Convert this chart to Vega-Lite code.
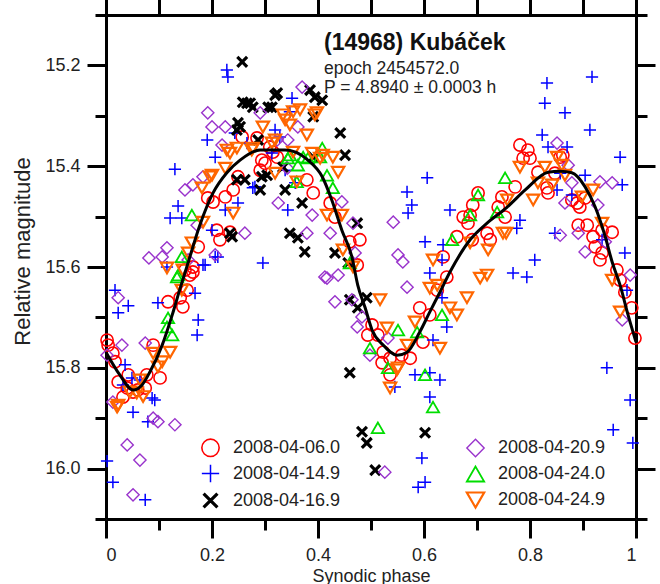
{
"$schema":"https://vega.github.io/schema/vega-lite/v6.json",
"width":530,"height":504,
"autosize":{"type":"none"},
"padding":{"left":106,"top":15,"right":24,"bottom":65},
"background":"white",
"title":{"text":"(14968) Kubáček","subtitle":["epoch 2454572.0","P = 4.8940 ± 0.0003 h"],"anchor":"start","frame":"group","dx":218,"dy":99,"offset":0,"font":"Liberation Sans","fontSize":23,"fontWeight":"bold","color":"#111","subtitleFont":"Liberation Sans","subtitleFontSize":17.5,"subtitleColor":"#222","subtitlePadding":5,"subtitleLineHeight":19},
"config":{"view":{"stroke":null},"font":"Liberation Sans",
"axis":{"domainColor":"#000","domainWidth":3,"tickColor":"#000","tickWidth":3,"grid":false,"labelFont":"Liberation Sans","labelFontSize":18,"labelColor":"#222","titleFont":"Liberation Sans","titleFontSize":18,"titleFontWeight":"normal","titleColor":"#222"}},
"datasets":{
"fit":[
{"p":0.000,"m":15.769},{"p":0.026,"m":15.814},{"p":0.051,"m":15.844},{"p":0.068,"m":15.834},{"p":0.083,"m":15.808},{"p":0.106,"m":15.755},{"p":0.125,"m":15.695},{"p":0.140,"m":15.642},{"p":0.153,"m":15.598},{"p":0.177,"m":15.517},{"p":0.202,"m":15.453},{"p":0.228,"m":15.413},{"p":0.253,"m":15.388},{"p":0.291,"m":15.368},{"p":0.338,"m":15.368},{"p":0.381,"m":15.388},{"p":0.408,"m":15.421},{"p":0.426,"m":15.467},{"p":0.445,"m":15.527},{"p":0.464,"m":15.580},{"p":0.475,"m":15.636},{"p":0.489,"m":15.681},{"p":0.502,"m":15.725},{"p":0.523,"m":15.755},{"p":0.549,"m":15.775},{"p":0.568,"m":15.769},{"p":0.592,"m":15.729},{"p":0.611,"m":15.689},{"p":0.630,"m":15.650},{"p":0.649,"m":15.610},{"p":0.687,"m":15.546},{"p":0.719,"m":15.513},{"p":0.757,"m":15.481},{"p":0.791,"m":15.447},{"p":0.834,"m":15.412},{"p":0.857,"m":15.410},{"p":0.879,"m":15.413},{"p":0.904,"m":15.441},{"p":0.923,"m":15.481},{"p":0.942,"m":15.540},{"p":0.955,"m":15.590},{"p":0.970,"m":15.636},{"p":0.985,"m":15.695},{"p":1.000,"m":15.749}
],
"obs":[
{"s":"2008-04-06.0","p":0.002,"m":15.745},{"s":"2008-04-06.0","p":0.004,"m":15.755},{"s":"2008-04-06.0","p":0.013,"m":15.771},{"s":"2008-04-06.0","p":0.017,"m":15.788},{"s":"2008-04-06.0","p":0.023,"m":15.828},{"s":"2008-04-06.0","p":0.042,"m":15.814},{"s":"2008-04-06.0","p":0.040,"m":15.840},{"s":"2008-04-06.0","p":0.032,"m":15.858},{"s":"2008-04-06.0","p":0.051,"m":15.848},{"s":"2008-04-06.0","p":0.060,"m":15.844},{"s":"2008-04-06.0","p":0.074,"m":15.840},{"s":"2008-04-06.0","p":0.077,"m":15.814},{"s":"2008-04-06.0","p":0.102,"m":15.820},{"s":"2008-04-06.0","p":0.089,"m":15.755},{"s":"2008-04-06.0","p":0.117,"m":15.669},{"s":"2008-04-06.0","p":0.140,"m":15.661},{"s":"2008-04-06.0","p":0.145,"m":15.679},{"s":"2008-04-06.0","p":0.158,"m":15.616},{"s":"2008-04-06.0","p":0.149,"m":15.606},{"s":"2008-04-06.0","p":0.164,"m":15.610},{"s":"2008-04-06.0","p":0.153,"m":15.646},{"s":"2008-04-06.0","p":0.192,"m":15.463},{"s":"2008-04-06.0","p":0.202,"m":15.471},{"s":"2008-04-06.0","p":0.225,"m":15.461},{"s":"2008-04-06.0","p":0.209,"m":15.527},{"s":"2008-04-06.0","p":0.215,"m":15.546},{"s":"2008-04-06.0","p":0.234,"m":15.531},{"s":"2008-04-06.0","p":0.174,"m":15.560},{"s":"2008-04-06.0","p":0.164,"m":15.600},{"s":"2008-04-06.0","p":0.249,"m":15.421},{"s":"2008-04-06.0","p":0.240,"m":15.447},{"s":"2008-04-06.0","p":0.285,"m":15.344},{"s":"2008-04-06.0","p":0.309,"m":15.362},{"s":"2008-04-06.0","p":0.300,"m":15.394},{"s":"2008-04-06.0","p":0.323,"m":15.382},{"s":"2008-04-06.0","p":0.291,"m":15.408},{"s":"2008-04-06.0","p":0.294,"m":15.388},{"s":"2008-04-06.0","p":0.315,"m":15.372},{"s":"2008-04-06.0","p":0.257,"m":15.342},{"s":"2008-04-06.0","p":0.379,"m":15.427},{"s":"2008-04-06.0","p":0.391,"m":15.453},{"s":"2008-04-06.0","p":0.423,"m":15.473},{"s":"2008-04-06.0","p":0.432,"m":15.501},{"s":"2008-04-06.0","p":0.460,"m":15.550},{"s":"2008-04-06.0","p":0.479,"m":15.546},{"s":"2008-04-06.0","p":0.474,"m":15.596},{"s":"2008-04-06.0","p":0.502,"m":15.715},{"s":"2008-04-06.0","p":0.494,"m":15.735},{"s":"2008-04-06.0","p":0.643,"m":15.620},{"s":"2008-04-06.0","p":0.625,"m":15.646},{"s":"2008-04-06.0","p":0.592,"m":15.681},{"s":"2008-04-06.0","p":0.611,"m":15.695},{"s":"2008-04-06.0","p":0.513,"m":15.735},{"s":"2008-04-06.0","p":0.523,"m":15.769},{"s":"2008-04-06.0","p":0.536,"m":15.781},{"s":"2008-04-06.0","p":0.558,"m":15.775},{"s":"2008-04-06.0","p":0.574,"m":15.781},{"s":"2008-04-06.0","p":0.598,"m":15.749},{"s":"2008-04-06.0","p":0.536,"m":15.814},{"s":"2008-04-06.0","p":0.521,"m":15.790},{"s":"2008-04-06.0","p":0.702,"m":15.453},{"s":"2008-04-06.0","p":0.692,"m":15.477},{"s":"2008-04-06.0","p":0.687,"m":15.497},{"s":"2008-04-06.0","p":0.674,"m":15.501},{"s":"2008-04-06.0","p":0.683,"m":15.513},{"s":"2008-04-06.0","p":0.662,"m":15.540},{"s":"2008-04-06.0","p":0.719,"m":15.533},{"s":"2008-04-06.0","p":0.725,"m":15.546},{"s":"2008-04-06.0","p":0.747,"m":15.461},{"s":"2008-04-06.0","p":0.740,"m":15.481},{"s":"2008-04-06.0","p":0.753,"m":15.501},{"s":"2008-04-06.0","p":0.636,"m":15.580},{"s":"2008-04-06.0","p":0.691,"m":15.546},{"s":"2008-04-06.0","p":0.781,"m":15.358},{"s":"2008-04-06.0","p":0.796,"m":15.368},{"s":"2008-04-06.0","p":0.787,"m":15.384},{"s":"2008-04-06.0","p":0.800,"m":15.384},{"s":"2008-04-06.0","p":0.815,"m":15.412},{"s":"2008-04-06.0","p":0.847,"m":15.414},{"s":"2008-04-06.0","p":0.857,"m":15.382},{"s":"2008-04-06.0","p":0.862,"m":15.378},{"s":"2008-04-06.0","p":0.772,"m":15.441},{"s":"2008-04-06.0","p":0.832,"m":15.443},{"s":"2008-04-06.0","p":0.834,"m":15.453},{"s":"2008-04-06.0","p":0.879,"m":15.467},{"s":"2008-04-06.0","p":0.889,"m":15.473},{"s":"2008-04-06.0","p":0.894,"m":15.481},{"s":"2008-04-06.0","p":0.904,"m":15.463},{"s":"2008-04-06.0","p":0.891,"m":15.517},{"s":"2008-04-06.0","p":0.908,"m":15.517},{"s":"2008-04-06.0","p":0.919,"m":15.540},{"s":"2008-04-06.0","p":0.936,"m":15.527},{"s":"2008-04-06.0","p":0.955,"m":15.531},{"s":"2008-04-06.0","p":0.923,"m":15.560},{"s":"2008-04-06.0","p":0.936,"m":15.572},{"s":"2008-04-06.0","p":0.932,"m":15.586},{"s":"2008-04-06.0","p":0.964,"m":15.606},{"s":"2008-04-06.0","p":0.970,"m":15.626},{"s":"2008-04-06.0","p":0.979,"m":15.650},{"s":"2008-04-06.0","p":0.992,"m":15.681},{"s":"2008-04-06.0","p":0.998,"m":15.741},
{"s":"2008-04-14.9","p":0.002,"m":15.985},{"s":"2008-04-14.9","p":0.013,"m":16.027},{"s":"2008-04-14.9","p":0.074,"m":16.062},{"s":"2008-04-14.9","p":0.017,"m":15.646},{"s":"2008-04-14.9","p":0.023,"m":15.691},{"s":"2008-04-14.9","p":0.042,"m":15.677},{"s":"2008-04-14.9","p":0.098,"m":15.671},{"s":"2008-04-14.9","p":0.174,"m":15.705},{"s":"2008-04-14.9","p":0.172,"m":15.735},{"s":"2008-04-14.9","p":0.036,"m":15.794},{"s":"2008-04-14.9","p":0.032,"m":15.834},{"s":"2008-04-14.9","p":0.049,"m":15.820},{"s":"2008-04-14.9","p":0.064,"m":15.824},{"s":"2008-04-14.9","p":0.087,"m":15.860},{"s":"2008-04-14.9","p":0.092,"m":15.864},{"s":"2008-04-14.9","p":0.051,"m":15.888},{"s":"2008-04-14.9","p":0.079,"m":15.907},{"s":"2008-04-14.9","p":0.168,"m":15.652},{"s":"2008-04-14.9","p":0.183,"m":15.596},
{"s":"2008-04-14.9","p":0.228,"m":15.209},{"s":"2008-04-14.9","p":0.230,"m":15.223},{"s":"2008-04-14.9","p":0.191,"m":15.348},{"s":"2008-04-14.9","p":0.206,"m":15.382},{"s":"2008-04-14.9","p":0.130,"m":15.406},{"s":"2008-04-14.9","p":0.243,"m":15.334},{"s":"2008-04-14.9","p":0.136,"m":15.479},{"s":"2008-04-14.9","p":0.121,"m":15.503},{"s":"2008-04-14.9","p":0.143,"m":15.503},{"s":"2008-04-14.9","p":0.225,"m":15.487},{"s":"2008-04-14.9","p":0.200,"m":15.527},{"s":"2008-04-14.9","p":0.211,"m":15.580},{"s":"2008-04-14.9","p":0.206,"m":15.580},{"s":"2008-04-14.9","p":0.187,"m":15.596},{"s":"2008-04-14.9","p":0.115,"m":15.600},
{"s":"2008-04-14.9","p":0.351,"m":15.265},{"s":"2008-04-14.9","p":0.347,"m":15.292},{"s":"2008-04-14.9","p":0.319,"m":15.328},{"s":"2008-04-14.9","p":0.328,"m":15.342},{"s":"2008-04-14.9","p":0.313,"m":15.374},{"s":"2008-04-14.9","p":0.338,"m":15.408},{"s":"2008-04-14.9","p":0.343,"m":15.487},{"s":"2008-04-14.9","p":0.281,"m":15.441},{"s":"2008-04-14.9","p":0.249,"m":15.473},{"s":"2008-04-14.9","p":0.296,"m":15.592},{"s":"2008-04-14.9","p":0.357,"m":15.433},{"s":"2008-04-14.9","p":0.266,"m":15.354},{"s":"2008-04-14.9","p":0.277,"m":15.443},
{"s":"2008-04-14.9","p":0.611,"m":15.612},{"s":"2008-04-14.9","p":0.634,"m":15.661},{"s":"2008-04-14.9","p":0.643,"m":15.719},{"s":"2008-04-14.9","p":0.617,"m":15.745},{"s":"2008-04-14.9","p":0.583,"m":15.814},{"s":"2008-04-14.9","p":0.611,"m":15.810},{"s":"2008-04-14.9","p":0.630,"m":15.824},{"s":"2008-04-14.9","p":0.611,"m":15.858},{"s":"2008-04-14.9","p":0.545,"m":15.838},{"s":"2008-04-14.9","p":0.596,"m":15.979},{"s":"2008-04-14.9","p":0.602,"m":16.027},{"s":"2008-04-14.9","p":0.589,"m":16.037},
{"s":"2008-04-14.9","p":0.606,"m":15.423},{"s":"2008-04-14.9","p":0.568,"m":15.451},{"s":"2008-04-14.9","p":0.577,"m":15.477},{"s":"2008-04-14.9","p":0.570,"m":15.493},{"s":"2008-04-14.9","p":0.649,"m":15.487},{"s":"2008-04-14.9","p":0.602,"m":15.550},{"s":"2008-04-14.9","p":0.636,"m":15.556},{"s":"2008-04-14.9","p":0.634,"m":15.586},
{"s":"2008-04-14.9","p":0.917,"m":15.223},{"s":"2008-04-14.9","p":0.832,"m":15.235},{"s":"2008-04-14.9","p":0.828,"m":15.275},{"s":"2008-04-14.9","p":0.866,"m":15.294},{"s":"2008-04-14.9","p":0.913,"m":15.328},{"s":"2008-04-14.9","p":0.823,"m":15.338},{"s":"2008-04-14.9","p":0.834,"m":15.362},{"s":"2008-04-14.9","p":0.870,"m":15.362},{"s":"2008-04-14.9","p":0.970,"m":15.382},{"s":"2008-04-14.9","p":0.904,"m":15.418},{"s":"2008-04-14.9","p":0.857,"m":15.414},{"s":"2008-04-14.9","p":0.851,"m":15.447},{"s":"2008-04-14.9","p":0.879,"m":15.457},{"s":"2008-04-14.9","p":0.974,"m":15.437},{"s":"2008-04-14.9","p":0.781,"m":15.507},{"s":"2008-04-14.9","p":0.775,"m":15.523},{"s":"2008-04-14.9","p":0.847,"m":15.533},{"s":"2008-04-14.9","p":0.936,"m":15.546},{"s":"2008-04-14.9","p":0.979,"m":15.572},{"s":"2008-04-14.9","p":0.809,"m":15.586},
{"s":"2008-04-14.9","p":0.768,"m":15.612},{"s":"2008-04-14.9","p":0.794,"m":15.620},{"s":"2008-04-14.9","p":0.983,"m":15.646},{"s":"2008-04-14.9","p":0.945,"m":15.800},{"s":"2008-04-14.9","p":0.989,"m":15.864},{"s":"2008-04-14.9","p":0.957,"m":15.923},{"s":"2008-04-14.9","p":0.994,"m":15.949},
{"s":"2008-04-16.9","p":0.257,"m":15.193},{"s":"2008-04-16.9","p":0.266,"m":15.275},{"s":"2008-04-16.9","p":0.277,"m":15.283},{"s":"2008-04-16.9","p":0.258,"m":15.273},{"s":"2008-04-16.9","p":0.272,"m":15.275},{"s":"2008-04-16.9","p":0.319,"m":15.259},{"s":"2008-04-16.9","p":0.323,"m":15.255},{"s":"2008-04-16.9","p":0.313,"m":15.283},{"s":"2008-04-16.9","p":0.306,"m":15.283},{"s":"2008-04-16.9","p":0.385,"m":15.249},{"s":"2008-04-16.9","p":0.394,"m":15.263},{"s":"2008-04-16.9","p":0.408,"m":15.269},{"s":"2008-04-16.9","p":0.391,"m":15.302},{"s":"2008-04-16.9","p":0.253,"m":15.322},{"s":"2008-04-16.9","p":0.247,"m":15.328},{"s":"2008-04-16.9","p":0.249,"m":15.314},{"s":"2008-04-16.9","p":0.287,"m":15.348},{"s":"2008-04-16.9","p":0.442,"m":15.334},{"s":"2008-04-16.9","p":0.451,"m":15.378},{"s":"2008-04-16.9","p":0.334,"m":15.402},{"s":"2008-04-16.9","p":0.294,"m":15.421},{"s":"2008-04-16.9","p":0.262,"m":15.427},{"s":"2008-04-16.9","p":0.338,"m":15.447},{"s":"2008-04-16.9","p":0.370,"m":15.473},{"s":"2008-04-16.9","p":0.347,"m":15.533},{"s":"2008-04-16.9","p":0.362,"m":15.542},{"s":"2008-04-16.9","p":0.375,"m":15.570},{"s":"2008-04-16.9","p":0.391,"m":15.382},{"s":"2008-04-16.9","p":0.474,"m":15.513},{"s":"2008-04-16.9","p":0.432,"m":15.572},{"s":"2008-04-16.9","p":0.457,"m":15.592},{"s":"2008-04-16.9","p":0.234,"m":15.533},{"s":"2008-04-16.9","p":0.238,"m":15.540},{"s":"2008-04-16.9","p":0.247,"m":15.427},{"s":"2008-04-16.9","p":0.304,"m":15.418},{"s":"2008-04-16.9","p":0.291,"m":15.447},{"s":"2008-04-16.9","p":0.460,"m":15.665},{"s":"2008-04-16.9","p":0.475,"m":15.681},{"s":"2008-04-16.9","p":0.492,"m":15.661},{"s":"2008-04-16.9","p":0.460,"m":15.810},{"s":"2008-04-16.9","p":0.483,"m":15.927},{"s":"2008-04-16.9","p":0.492,"m":15.949},{"s":"2008-04-16.9","p":0.508,"m":16.003},{"s":"2008-04-16.9","p":0.602,"m":15.929},
{"s":"2008-04-20.9","p":0.023,"m":15.661},{"s":"2008-04-20.9","p":0.030,"m":15.755},{"s":"2008-04-20.9","p":0.002,"m":15.775},{"s":"2008-04-20.9","p":0.013,"m":15.868},{"s":"2008-04-20.9","p":0.074,"m":15.751},{"s":"2008-04-20.9","p":0.089,"m":15.900},{"s":"2008-04-20.9","p":0.098,"m":15.907},{"s":"2008-04-20.9","p":0.130,"m":15.913},{"s":"2008-04-20.9","p":0.040,"m":15.953},{"s":"2008-04-20.9","p":0.064,"m":15.983},{"s":"2008-04-20.9","p":0.051,"m":16.052},{"s":"2008-04-20.9","p":0.106,"m":15.580},{"s":"2008-04-20.9","p":0.115,"m":15.562},{"s":"2008-04-20.9","p":0.155,"m":15.586},
{"s":"2008-04-20.9","p":0.192,"m":15.294},{"s":"2008-04-20.9","p":0.200,"m":15.322},{"s":"2008-04-20.9","p":0.225,"m":15.322},{"s":"2008-04-20.9","p":0.219,"m":15.358},{"s":"2008-04-20.9","p":0.183,"m":15.421},{"s":"2008-04-20.9","p":0.164,"m":15.437},{"s":"2008-04-20.9","p":0.149,"m":15.447},{"s":"2008-04-20.9","p":0.172,"m":15.517},{"s":"2008-04-20.9","p":0.081,"m":15.582},{"s":"2008-04-20.9","p":0.206,"m":15.576},
{"s":"2008-04-20.9","p":0.370,"m":15.243},{"s":"2008-04-20.9","p":0.291,"m":15.294},{"s":"2008-04-20.9","p":0.362,"m":15.322},{"s":"2008-04-20.9","p":0.343,"m":15.348},{"s":"2008-04-20.9","p":0.323,"m":15.348},{"s":"2008-04-20.9","p":0.342,"m":15.404},{"s":"2008-04-20.9","p":0.325,"m":15.473},{"s":"2008-04-20.9","p":0.389,"m":15.497},{"s":"2008-04-20.9","p":0.445,"m":15.471},{"s":"2008-04-20.9","p":0.379,"m":15.533},{"s":"2008-04-20.9","p":0.423,"m":15.533},{"s":"2008-04-20.9","p":0.262,"m":15.533},{"s":"2008-04-20.9","p":0.466,"m":15.513},{"s":"2008-04-20.9","p":0.470,"m":15.572},{"s":"2008-04-20.9","p":0.413,"m":15.620},
{"s":"2008-04-20.9","p":0.417,"m":15.622},{"s":"2008-04-20.9","p":0.438,"m":15.616},{"s":"2008-04-20.9","p":0.432,"m":15.669},{"s":"2008-04-20.9","p":0.464,"m":15.665},{"s":"2008-04-20.9","p":0.483,"m":15.699},{"s":"2008-04-20.9","p":0.474,"m":15.719},{"s":"2008-04-20.9","p":0.498,"m":15.775},
{"s":"2008-04-20.9","p":0.568,"m":15.640},{"s":"2008-04-20.9","p":0.526,"m":16.007},{"s":"2008-04-20.9","p":0.532,"m":15.741},
{"s":"2008-04-20.9","p":0.542,"m":15.511},{"s":"2008-04-20.9","p":0.551,"m":15.576},{"s":"2008-04-20.9","p":0.560,"m":15.590},
{"s":"2008-04-20.9","p":0.851,"m":15.354},{"s":"2008-04-20.9","p":0.872,"m":15.398},{"s":"2008-04-20.9","p":0.879,"m":15.433},{"s":"2008-04-20.9","p":0.932,"m":15.431},{"s":"2008-04-20.9","p":0.955,"m":15.433},{"s":"2008-04-20.9","p":0.928,"m":15.477},{"s":"2008-04-20.9","p":0.866,"m":15.473},{"s":"2008-04-20.9","p":0.857,"m":15.537},{"s":"2008-04-20.9","p":0.891,"m":15.533},{"s":"2008-04-20.9","p":0.904,"m":15.570},{"s":"2008-04-20.9","p":0.942,"m":15.550},{"s":"2008-04-20.9","p":0.989,"m":15.616},{"s":"2008-04-20.9","p":0.974,"m":15.705},
{"s":"2008-04-24.0","p":0.162,"m":15.497},{"s":"2008-04-24.0","p":0.143,"m":15.580},{"s":"2008-04-24.0","p":0.136,"m":15.616},{"s":"2008-04-24.0","p":0.117,"m":15.701},{"s":"2008-04-24.0","p":0.115,"m":15.719},{"s":"2008-04-24.0","p":0.125,"m":15.735},{"s":"2008-04-24.0","p":0.134,"m":15.620},
{"s":"2008-04-24.0","p":0.347,"m":15.378},{"s":"2008-04-24.0","p":0.372,"m":15.382},{"s":"2008-04-24.0","p":0.408,"m":15.364},{"s":"2008-04-24.0","p":0.362,"m":15.398},{"s":"2008-04-24.0","p":0.343,"m":15.384},{"s":"2008-04-24.0","p":0.381,"m":15.384},{"s":"2008-04-24.0","p":0.404,"m":15.382},{"s":"2008-04-24.0","p":0.417,"m":15.418},{"s":"2008-04-24.0","p":0.428,"m":15.443},{"s":"2008-04-24.0","p":0.360,"m":15.431},{"s":"2008-04-24.0","p":0.460,"m":15.592},{"s":"2008-04-24.0","p":0.498,"m":15.761},
{"s":"2008-04-24.0","p":0.551,"m":15.725},{"s":"2008-04-24.0","p":0.587,"m":15.729},{"s":"2008-04-24.0","p":0.634,"m":15.695},{"s":"2008-04-24.0","p":0.532,"m":15.800},{"s":"2008-04-24.0","p":0.602,"m":15.814},{"s":"2008-04-24.0","p":0.617,"m":15.878},{"s":"2008-04-24.0","p":0.513,"m":15.919},
{"s":"2008-04-24.0","p":0.702,"m":15.457},{"s":"2008-04-24.0","p":0.687,"m":15.497},{"s":"2008-04-24.0","p":0.738,"m":15.491},{"s":"2008-04-24.0","p":0.653,"m":15.546},{"s":"2008-04-24.0","p":0.753,"m":15.423},
{"s":"2008-04-24.9","p":0.023,"m":15.874},{"s":"2008-04-24.9","p":0.045,"m":15.848},{"s":"2008-04-24.9","p":0.058,"m":15.850},{"s":"2008-04-24.9","p":0.064,"m":15.824},{"s":"2008-04-24.9","p":0.098,"m":15.798},{"s":"2008-04-24.9","p":0.089,"m":15.771},{"s":"2008-04-24.9","p":0.106,"m":15.788},{"s":"2008-04-24.9","p":0.121,"m":15.769},{"s":"2008-04-24.9","p":0.143,"m":15.646},{"s":"2008-04-24.9","p":0.070,"m":15.857},{"s":"2008-04-24.9","p":0.021,"m":15.878},
{"s":"2008-04-24.9","p":0.228,"m":15.368},{"s":"2008-04-24.9","p":0.225,"m":15.404},{"s":"2008-04-24.9","p":0.200,"m":15.418},{"s":"2008-04-24.9","p":0.181,"m":15.443},{"s":"2008-04-24.9","p":0.240,"m":15.493},{"s":"2008-04-24.9","p":0.162,"m":15.552},{"s":"2008-04-24.9","p":0.155,"m":15.572},{"s":"2008-04-24.9","p":0.115,"m":15.602},{"s":"2008-04-24.9","p":0.145,"m":15.606},
{"s":"2008-04-24.9","p":0.334,"m":15.298},{"s":"2008-04-24.9","p":0.347,"m":15.318},{"s":"2008-04-24.9","p":0.366,"m":15.288},{"s":"2008-04-24.9","p":0.394,"m":15.298},{"s":"2008-04-24.9","p":0.379,"m":15.338},{"s":"2008-04-24.9","p":0.234,"m":15.374},{"s":"2008-04-24.9","p":0.275,"m":15.368},{"s":"2008-04-24.9","p":0.296,"m":15.322},{"s":"2008-04-24.9","p":0.319,"m":15.348},{"s":"2008-04-24.9","p":0.353,"m":15.372},{"s":"2008-04-24.9","p":0.389,"m":15.374},{"s":"2008-04-24.9","p":0.409,"m":15.378},{"s":"2008-04-24.9","p":0.360,"m":15.431},{"s":"2008-04-24.9","p":0.196,"m":15.421},{"s":"2008-04-24.9","p":0.183,"m":15.511},
{"s":"2008-04-24.9","p":0.353,"m":15.292},{"s":"2008-04-24.9","p":0.338,"m":15.308},{"s":"2008-04-24.9","p":0.398,"m":15.294},{"s":"2008-04-24.9","p":0.277,"m":15.364},{"s":"2008-04-24.9","p":0.247,"m":15.364},{"s":"2008-04-24.9","p":0.313,"m":15.354},{"s":"2008-04-24.9","p":0.404,"m":15.384},{"s":"2008-04-24.9","p":0.428,"m":15.382},{"s":"2008-04-24.9","p":0.438,"m":15.412},{"s":"2008-04-24.9","p":0.319,"m":15.414},{"s":"2008-04-24.9","p":0.417,"m":15.497},{"s":"2008-04-24.9","p":0.445,"m":15.497},{"s":"2008-04-24.9","p":0.447,"m":15.566},{"s":"2008-04-24.9","p":0.466,"m":15.600},
{"s":"2008-04-24.9","p":0.611,"m":15.642},{"s":"2008-04-24.9","p":0.625,"m":15.636},{"s":"2008-04-24.9","p":0.706,"m":15.622},{"s":"2008-04-24.9","p":0.719,"m":15.616},{"s":"2008-04-24.9","p":0.681,"m":15.661},{"s":"2008-04-24.9","p":0.649,"m":15.681},{"s":"2008-04-24.9","p":0.662,"m":15.695},{"s":"2008-04-24.9","p":0.583,"m":15.709},{"s":"2008-04-24.9","p":0.630,"m":15.761},{"s":"2008-04-24.9","p":0.568,"m":15.755},{"s":"2008-04-24.9","p":0.530,"m":15.721},{"s":"2008-04-24.9","p":0.549,"m":15.804},{"s":"2008-04-24.9","p":0.536,"m":15.840},{"s":"2008-04-24.9","p":0.517,"m":15.665},{"s":"2008-04-24.9","p":0.551,"m":15.800},
{"s":"2008-04-24.9","p":0.687,"m":15.552},{"s":"2008-04-24.9","p":0.721,"m":15.566},{"s":"2008-04-24.9","p":0.749,"m":15.533},{"s":"2008-04-24.9","p":0.757,"m":15.467},{"s":"2008-04-24.9","p":0.617,"m":15.586},
{"s":"2008-04-24.9","p":0.781,"m":15.402},{"s":"2008-04-24.9","p":0.828,"m":15.402},{"s":"2008-04-24.9","p":0.860,"m":15.398},{"s":"2008-04-24.9","p":0.851,"m":15.382},{"s":"2008-04-24.9","p":0.815,"m":15.433},{"s":"2008-04-24.9","p":0.842,"m":15.437},{"s":"2008-04-24.9","p":0.866,"m":15.418},{"s":"2008-04-24.9","p":0.806,"m":15.467},{"s":"2008-04-24.9","p":0.919,"m":15.447},{"s":"2008-04-24.9","p":0.898,"m":15.461},{"s":"2008-04-24.9","p":0.936,"m":15.513},{"s":"2008-04-24.9","p":0.755,"m":15.533},
{"s":"2008-04-24.9","p":0.955,"m":15.626},{"s":"2008-04-24.9","p":0.970,"m":15.689}
]},
"layer":[
{"data":{"name":"obs"},
"mark":{"type":"point","filled":false,"opacity":1,"size":150},
"encoding":{
"x":{"field":"p","type":"quantitative","scale":{"domain":[0,1],"nice":false,"zero":false},
"axis":{"orient":"top","values":[0,0.1,0.2,0.3,0.4,0.5,0.6,0.7,0.8,0.9,1],"labels":false,"title":null,"tickSize":16}},
"y":{"field":"m","type":"quantitative","scale":{"domain":[15.1,16.1],"nice":false,"zero":false,"reverse":true},
"axis":{"orient":"right","values":[15.1,15.2,15.3,15.4,15.5,15.6,15.7,15.8,15.9,16.0,16.1],"labels":false,"title":null,"tickSize":{"condition":{"test":"round(datum.value*10) % 2 == 0","value":19},"value":11}}},
"color":{"field":"s","type":"nominal","scale":{"domain":["2008-04-06.0","2008-04-14.9","2008-04-16.9","2008-04-20.9","2008-04-24.0","2008-04-24.9"],"range":["#ff0000","#0000ff","#000000","#9933cc","#00dd00","#ff6600"]},
"legend":{"orient":"none","legendX":94,"legendY":423,"columns":2,"columnPadding":121,"rowPadding":1,"symbolSize":300,"symbolStrokeWidth":2,"labelFontSize":18,"labelFont":"Liberation Sans","labelColor":"#222","labelOffset":12,"title":null,"padding":0}},
"shape":{"field":"s","type":"nominal","scale":{"domain":["2008-04-06.0","2008-04-14.9","2008-04-16.9","2008-04-20.9","2008-04-24.0","2008-04-24.9"],"range":["circle","M-1,0H1M0,-1V1","M-0.8,-0.8L0.8,0.8M-0.8,0.8L0.8,-0.8","diamond","triangle-up","triangle-down"]}},
"strokeWidth":{"field":"s","type":"nominal","scale":{"type":"ordinal","domain":["2008-04-06.0","2008-04-14.9","2008-04-16.9","2008-04-20.9","2008-04-24.0","2008-04-24.9"],"range":[1.6,1.5,3.2,1.4,1.8,2.2]}}
}},
{"data":{"name":"fit"},
"mark":{"type":"line","color":"#000","strokeWidth":3,"interpolate":"monotone"},
"encoding":{
"x":{"field":"p","type":"quantitative","axis":{"orient":"bottom","values":[0,0.1,0.2,0.3,0.4,0.5,0.6,0.7,0.8,0.9,1],"labelExpr":"round(datum.value*10) % 2 == 0 ? (datum.value == 0 ? '0' : datum.value == 1 ? '1' : format(datum.value, '.1f')) : ''","tickSize":{"condition":{"test":"round(datum.value*10) % 2 == 0","value":19},"value":11},"labelPadding":8,"title":"Synodic phase","titleY":48,"titleBaseline":"top"}},
"y":{"field":"m","type":"quantitative","axis":{"orient":"left","values":[15.1,15.2,15.3,15.4,15.5,15.6,15.7,15.8,15.9,16.0,16.1],"labelExpr":"round(datum.value*10) % 2 == 0 ? format(datum.value, '.1f') : ''","tickSize":{"condition":{"test":"round(datum.value*10) % 2 == 0","value":19},"value":11},"labelPadding":7,"title":"Relative magnitude","titleX":-84,"titleY":236,"titleBaseline":"middle","titleAngle":-90,"titleFontSize":22}}
}}
]
}
